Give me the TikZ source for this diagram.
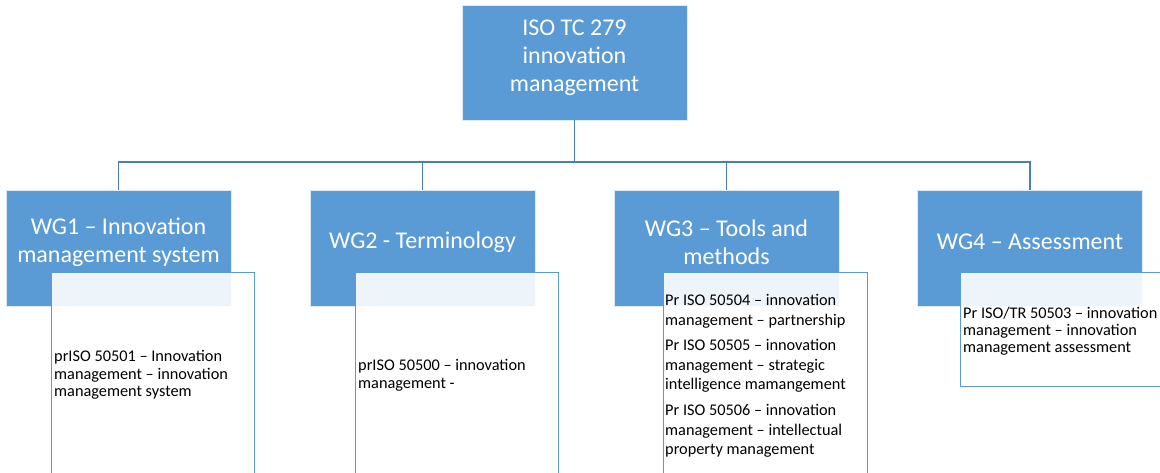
\documentclass[tikz,border=0pt]{standalone}
\usepackage{fontspec}
\setmainfont{Carlito}
\definecolor{boxblue}{HTML}{5B9BD5}
\definecolor{lineblue}{HTML}{4A7EBB}
\definecolor{edgeblue}{HTML}{5B9BD5}
\begin{document}
\begin{tikzpicture}[x=1pt,y=-1pt,
  headbox/.style={draw=white!80!boxblue, line width=0.6pt, fill=boxblue, minimum width=225pt, inner sep=0pt, outer sep=0pt},
  detailbox/.style={draw=edgeblue, line width=0.8pt, fill=white, fill opacity=0.9, inner sep=0pt, outer sep=0pt},
  headtext/.style={text=white, font=\fontsize{24}{28}\selectfont, align=center, inner sep=0pt},
  smalltext/.style={text=black, font=\fontsize{16.3}{17.5}\selectfont, align=left, inner sep=0pt, anchor=north west},
  conn/.style={draw=lineblue, line width=1.4pt}]
\useasboundingbox (0,0) rectangle (1160,472);
% top box
\node[headbox, minimum height=115pt] (top) at (574.5,62.5) {};
\node[headtext] (toptext) at (574.5,58) {ISO TC 279\\innovation\\management};
% working group boxes
\node[headbox, minimum height=116pt] (wg1) at (118.5,248) {};
\node[headbox, minimum height=116pt] (wg2) at (422.5,248) {};
\node[headbox, minimum height=116pt] (wg3) at (726.5,248) {};
\node[headbox, minimum height=116pt] (wg4) at (1030,248) {};
\node[headtext] (wg1t) at (118.5,242) {WG1 – Innovation\\management system};
\node[headtext] (wg2t) at (422.5,242) {WG2 - Terminology};
\node[headtext] (wg3t) at (726.5,242) {WG3 – Tools and\\methods};
\node[headtext] (wg4t) at (1030,242) {WG4 – Assessment};
% connectors
\coordinate (bus) at (574.5,162);
\draw[conn] (top.south) -- (top.south |- bus);
\draw[conn] (wg1.north) |- (wg4.north |- bus) -- (wg4.north);
\draw[conn] (wg2.north) -- (wg2.north |- bus);
\draw[conn] (wg3.north) -- (wg3.north |- bus);
% detail boxes
\node[detailbox, minimum width=203pt, minimum height=210pt, anchor=north west] (d1) at (51,272) {};
\node[detailbox, minimum width=203pt, minimum height=210pt, anchor=north west] (d2) at (355,272) {};
\node[detailbox, minimum width=204pt, minimum height=210pt, anchor=north west] (d3) at (663,272) {};
\node[detailbox, minimum width=215pt, minimum height=114pt, anchor=north west] (d4) at (960,272) {};
% detail texts
\node[smalltext] (d1t) at (54,350.3) {prISO 50501 – Innovation\\management – innovation\\management system};
\node[smalltext, font=\fontsize{16.3}{18}\selectfont] (d2t) at (358,359.3) {prISO 50500 – innovation\\management -};
\node[smalltext, font=\fontsize{16.3}{19.5}\selectfont] (d3a) at (665,294.3) {Pr ISO 50504 – innovation\\management – partnership};
\node[smalltext, font=\fontsize{16.3}{19.5}\selectfont] (d3b) at (665,339.3) {Pr ISO 50505 – innovation\\management – strategic\\intelligence mamangement};
\node[smalltext, font=\fontsize{16.3}{19.5}\selectfont] (d3c) at (665,404.3) {Pr ISO 50506 – innovation\\management – intellectual\\property management};
\node[smalltext, font=\fontsize{16.3}{17}\selectfont] (d4t) at (963,307.3) {Pr ISO/TR 50503 – innovation\\management – innovation\\management assessment};
\end{tikzpicture}
\end{document}
